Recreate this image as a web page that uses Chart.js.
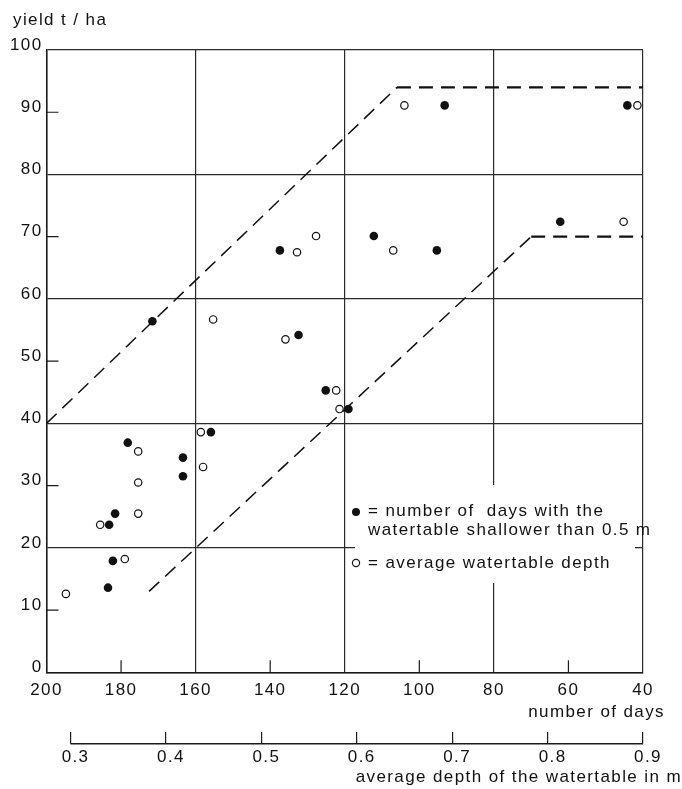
<!DOCTYPE html>
<html lang="en">
<head>
<meta charset="UTF-8">
<title>yield t / ha</title>
<script src="https://cdn.jsdelivr.net/npm/chart.js@4.4.1/dist/chart.umd.min.js"></script>
<style>
    body { margin: 0; background: #fff; }
    canvas { display: block; }
</style>
</head>
<body>
<canvas id="grafico-produtividade" width="682" height="789"></canvas>
<script>
// Pontos cheios: dias com o lençol freático acima de 0.5 m
const diasRaso = [44.2, 93.2, 62.2, 112.2, 95.3, 137.4, 171.6, 132.4, 125.1, 119.0, 155.9, 178.2, 163.4, 163.4, 181.6, 183.2, 182.2, 183.5];
const produtividadeRaso = [91.1, 91.1, 72.4, 70.1, 67.8, 67.8, 56.4, 54.2, 45.3, 42.3, 38.6, 36.9, 34.5, 31.5, 25.5, 23.7, 17.9, 13.6];

// Pontos vazados: profundidade média (posição na mesma escala de dias)
const diasMedia = [104.0, 41.5, 45.2, 107.0, 132.8, 127.7, 155.3, 135.9, 122.3, 121.4, 158.6, 175.4, 158.0, 175.4, 175.4, 185.6, 179.0, 194.8];
const produtividadeMedia = [91.1, 91.1, 72.4, 67.8, 67.5, 70.1, 56.7, 53.5, 45.3, 42.3, 38.6, 35.5, 33.0, 30.5, 25.5, 23.7, 18.2, 12.6];

// Envoltórias tracejadas
const envSuperiorDias = [200, 106, 40];
const envSuperiorProd = [40, 94, 94];
const envInferiorDias = [172.5, 70, 40];
const envInferiorProd = [13, 70, 70];

// Ticks dos eixos
const ticksDias = [200, 180, 160, 140, 120, 100, 80, 60, 40];
const ticksProdutividade = [0, 10, 20, 30, 40, 50, 60, 70, 80, 90, 100];
const ticksProfundidade = [0.3, 0.4, 0.5, 0.6, 0.7, 0.8, 0.9];

const fonte = '"Liberation Sans", Arial, sans-serif';
const corTraco = '#1a1a1a';

function montarPontos(xs, ys) {
    let pontos = [];
    for (let i = 0; i < xs.length; i++) {
        pontos.push({ x: xs[i], y: ys[i] });
    }
    return pontos;
}

// só as linhas a cada 40 dias / 20 t viram grade, o resto fica como tick curto
function corGrade(passo) {
    return function (ctx) {
        if (!ctx.tick) return 'rgba(0,0,0,0)';
        return ctx.tick.value % passo === 0 ? '#2a2a2a' : 'rgba(0,0,0,0)';
    };
}

const espacamentoLetras = {
    id: 'espacamentoLetras',
    beforeLayout(chart) { chart.ctx.letterSpacing = '1.4px'; },
    beforeDraw(chart) { chart.ctx.letterSpacing = '1.4px'; }
};

// ticks menores para dentro, eixo da profundidade, títulos e legenda
const extras = {
    id: 'extras',
    afterDraw(chart) {
        const ctx = chart.ctx;
        const area = chart.chartArea;
        const x = chart.scales.x;
        const y = chart.scales.y;
        const x2 = chart.scales.x2;

        ctx.save();
        ctx.letterSpacing = '1.4px';
        ctx.strokeStyle = corTraco;
        ctx.lineWidth = 1.2;

        ctx.beginPath();
        ticksProdutividade.filter(v => v % 20 !== 0).forEach(v => {
            const py = y.getPixelForValue(v);
            ctx.moveTo(area.left, py);
            ctx.lineTo(area.left + 12, py);
        });
        ticksDias.filter(v => v % 40 !== 0).forEach(v => {
            const px = x.getPixelForValue(v);
            ctx.moveTo(px, area.bottom);
            ctx.lineTo(px, area.bottom - 12);
        });
        ctx.stroke();

        // linha do eixo de profundidade
        const linhaY = x2.top + 12;
        ctx.lineWidth = 1.5;
        ctx.beginPath();
        ctx.moveTo(x2.getPixelForValue(ticksProfundidade[0]), linhaY);
        ctx.lineTo(x2.getPixelForValue(ticksProfundidade[ticksProfundidade.length - 1]), linhaY);
        ctx.stroke();

        ctx.fillStyle = '#111';
        ctx.font = '17px ' + fonte;
        ctx.textBaseline = 'alphabetic';
        ctx.textAlign = 'left';
        ctx.fillText('yield t / ha', 13, 25);

        ctx.textAlign = 'right';
        ctx.fillText('number of days', area.right + 22, x.top + 45);
        ctx.fillText('average depth of the watertable in m', 682, x2.top + 50);

        // legenda com fundo branco por cima da grade
        const lx = 355, ly = 485;
        ctx.fillStyle = '#fff';
        ctx.fillRect(lx, ly, 280, 98);

        ctx.fillStyle = '#111';
        ctx.beginPath();
        ctx.arc(lx + 1, ly + 27, 4, 0, Math.PI * 2);
        ctx.fill();

        ctx.lineWidth = 1.2;
        ctx.fillStyle = '#fff';
        ctx.beginPath();
        ctx.arc(lx + 1, ly + 78, 3.6, 0, Math.PI * 2);
        ctx.fill();
        ctx.stroke();

        ctx.fillStyle = '#111';
        ctx.textAlign = 'left';
        ctx.textBaseline = 'middle';
        ctx.fillText('= number of  days with the', lx + 13, ly + 26);
        ctx.fillText('watertable shallower than 0.5 m', lx + 13, ly + 45);
        ctx.fillText('= average watertable depth', lx + 13, ly + 78);
        ctx.restore();
    }
};

const dadosGrafico = {
    datasets: [{
        label: 'number of days with the watertable shallower than 0.5 m',
        data: montarPontos(diasRaso, produtividadeRaso),
        pointRadius: 4.3,
        pointBackgroundColor: '#111',
        pointBorderWidth: 0,
        showLine: false
    },
    {
        label: 'average watertable depth',
        data: montarPontos(diasMedia, produtividadeMedia),
        pointRadius: 3.7,
        pointBackgroundColor: '#fff',
        pointBorderColor: '#111',
        pointBorderWidth: 1.2,
        showLine: false
    },
    {
        data: montarPontos(envSuperiorDias, envSuperiorProd),
        showLine: true,
        pointRadius: 0,
        borderColor: '#111',
        borderDash: [14, 8],
        segment: {
            borderWidth: c => c.p0.parsed.y === c.p1.parsed.y ? 2.2 : 1.5
        }
    },
    {
        data: montarPontos(envInferiorDias, envInferiorProd),
        showLine: true,
        pointRadius: 0,
        borderColor: '#111',
        borderDash: [14, 8],
        segment: {
            borderWidth: c => c.p0.parsed.y === c.p1.parsed.y ? 2.2 : 1.5
        }
    }]
};

const configProdutividade = {
    type: 'scatter',
    data: dadosGrafico,
    options: {
        responsive: false,
        animation: false,
        layout: { padding: { top: 50, right: 39, bottom: 0, left: 0 } },
        plugins: {
            legend: { display: false },
            tooltip: { enabled: false }
        },
        scales: {
            x: {
                type: 'linear',
                position: 'bottom',
                reverse: true,
                min: 40,
                max: 200,
                weight: 0,
                afterBuildTicks: s => { s.ticks = ticksDias.map(v => ({ value: v })); },
                afterFit: s => { s.height = 59.4; },
                grid: { color: corGrade(40), lineWidth: 1.2, drawTicks: false },
                border: { color: corTraco, width: 1.5 },
                ticks: { color: '#111', font: { family: fonte, size: 17 }, padding: 8, maxRotation: 0, autoSkip: false }
            },
            x2: {
                type: 'linear',
                position: 'bottom',
                min: 0.2748,
                max: 0.9,
                weight: 1,
                afterBuildTicks: s => { s.ticks = ticksProfundidade.map(v => ({ value: v })); },
                afterFit: s => { s.height = 57.3; },
                grid: { display: true, drawOnChartArea: false, drawTicks: true, tickLength: 12, color: corTraco, lineWidth: 1.2 },
                border: { display: false },
                ticks: {
                    color: '#111',
                    font: { family: fonte, size: 17 },
                    padding: 3,
                    labelOffset: 5,
                    maxRotation: 0,
                    autoSkip: false,
                    callback: v => v.toFixed(1)
                }
            },
            y: {
                type: 'linear',
                min: 0,
                max: 100,
                afterBuildTicks: s => { s.ticks = ticksProdutividade.map(v => ({ value: v })); },
                afterFit: s => { s.width = 46.5; },
                grid: { color: corGrade(20), lineWidth: 1.2, drawTicks: false },
                border: { color: corTraco, width: 1.5 },
                ticks: { color: '#111', font: { family: fonte, size: 17 }, padding: 4, labelOffset: -5, autoSkip: false }
            }
        }
    },
    plugins: [espacamentoLetras, extras]
};

let graficoProdutividade = new Chart(
    document.getElementById('grafico-produtividade'),
    configProdutividade
);
</script>
</body>
</html>
